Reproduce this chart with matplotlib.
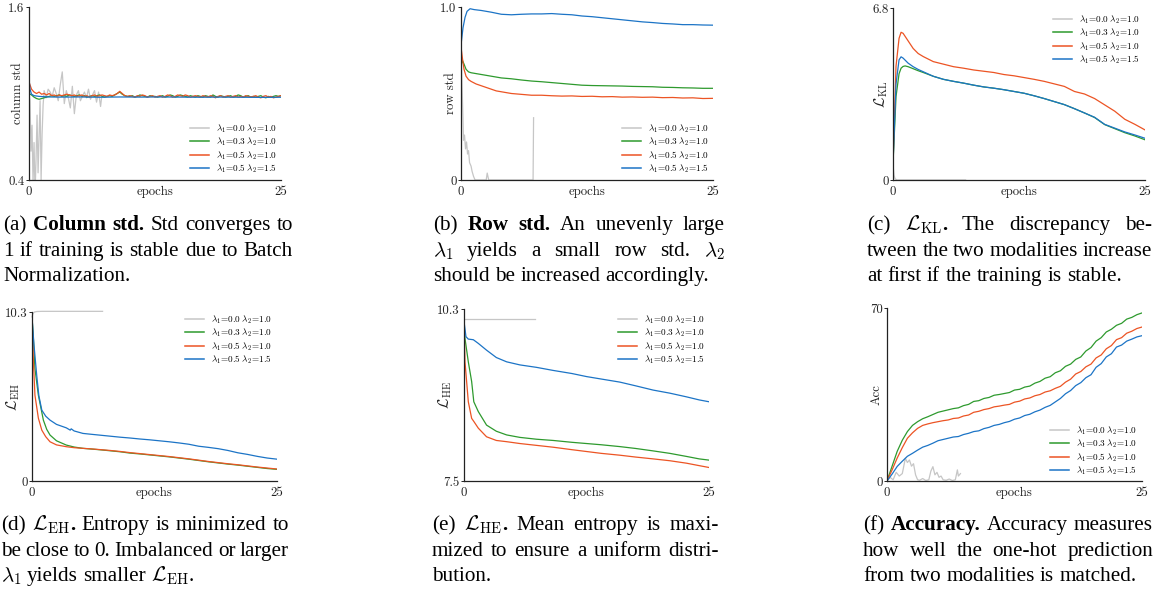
import numpy as np
import matplotlib
matplotlib.use("Agg")
import matplotlib.pyplot as plt
from matplotlib.lines import Line2D

W, H = 1161, 590

# === DATA ===
LEG_LABELS = [r"$\lambda_1\!=\!0.0\;\lambda_2\!=\!1.0$",
              r"$\lambda_1\!=\!0.3\;\lambda_2\!=\!1.0$",
              r"$\lambda_1\!=\!0.5\;\lambda_2\!=\!1.0$",
              r"$\lambda_1\!=\!0.5\;\lambda_2\!=\!1.5$"]

# (a) column std
grid_a = np.arange(101) * 0.25
orange_a = [1.08, 1.03, 1.01, 1.00, 1.01, 0.995, 1.00, 0.99, 1.00, 0.985,
            0.99, 0.98, 0.99, 0.985, 0.99, 0.995, 0.99, 0.985, 0.99, 0.98,
            0.985, 0.99, 0.98, 0.985, 0.975, 0.985, 0.99, 0.98, 0.985, 0.99,
            0.985, 0.98, 0.99, 0.985, 0.99, 1.00, 1.015, 1.00, 0.985, 0.98,
            0.985, 0.98, 0.975, 0.985, 0.98, 0.99, 0.985, 0.975, 0.98, 0.985,
            0.975, 0.98, 0.985, 0.975, 0.98, 0.99, 0.985, 0.975, 0.98, 0.99,
            0.985, 0.98, 0.99, 0.985, 0.975, 0.98, 0.985, 0.98, 0.975, 0.985,
            0.98, 0.975, 0.985, 0.98, 0.97, 0.98, 0.985, 0.975, 0.98, 0.985,
            0.975, 0.98, 0.985, 0.975, 0.98, 0.975, 0.985, 0.98, 0.975, 0.98,
            0.985, 0.975, 0.97, 0.98, 0.985, 0.975, 0.98, 0.97, 0.975, 0.98,
            0.985]
green_a = [1.00, 0.99, 0.975, 0.965, 0.96, 0.965, 0.97, 0.975, 0.98, 0.985,
           0.98, 0.985, 0.99, 0.98, 0.985, 0.98, 0.99, 0.985, 0.98, 0.985,
           0.99, 0.98, 0.985, 0.975, 0.98, 0.985, 0.98, 0.985, 0.99, 0.98,
           0.975, 0.98, 0.985, 0.98, 0.99, 1.00, 1.01, 0.995, 0.985, 0.98,
           0.98, 0.985, 0.975, 0.98, 0.99, 0.985, 0.98, 0.975, 0.985, 0.98,
           0.98, 0.975, 0.98, 0.985, 0.975, 0.98, 0.99, 0.985, 0.975, 0.98,
           0.99, 0.985, 0.98, 0.975, 0.985, 0.98, 0.975, 0.985, 0.98, 0.975,
           0.985, 0.98, 0.975, 0.99, 0.98, 0.975, 0.985, 0.98, 0.975, 0.98,
           0.985, 0.975, 0.98, 0.99, 0.985, 0.975, 0.98, 0.985, 0.975, 0.98,
           0.975, 0.98, 0.985, 0.975, 0.97, 0.98, 0.975, 0.98, 0.985, 0.98,
           0.985]
blue_a_x = [0, 0.1, 0.25, 0.5, 1, 2, 3, 5, 7, 9, 11, 13, 15, 17, 19, 21, 23, 25]
blue_a = [1.10, 1.03, 0.995, 0.985, 0.98, 0.976, 0.975, 0.976, 0.974, 0.976,
          0.975, 0.976, 0.975, 0.974, 0.975, 0.974, 0.973, 0.974]
gray_a_x = [0, 0.1, 0.2, 0.3, 0.4, 0.5, 0.6, 0.7, 0.8, 0.9, 1.0, 1.1, 1.2, 1.3, 1.4, 1.5,
            1.7, 1.9, 2.1, 2.3, 2.5, 2.7, 2.9, 3.1, 3.3, 3.5, 3.7, 3.9, 4.1, 4.3,
            4.5, 4.7, 4.9, 5.1, 5.3, 5.5, 5.7, 5.9, 6.1, 6.3, 6.5, 6.7, 6.9, 7.1, 7.2]
gray_a = [1.00, 0.95, 0.60, 0.78, 0.38, 0.66, 0.30, 0.55, 0.85, 0.45, 0.70, 0.95, 0.40, 0.72, 0.92, 1.02,
          0.97, 1.03, 1.01, 0.98, 1.04, 1.00, 0.95, 1.06, 1.15, 0.93, 1.02, 0.97, 0.90, 1.05,
          0.86, 0.99, 1.02, 0.95, 0.98, 1.01, 0.97, 1.03, 0.96, 0.99, 1.02, 0.94, 1.01, 0.91, 0.97]

# (b) row std
grid_b = [0, 0.15, 0.3, 0.5, 0.75, 1.0, 1.5, 2, 2.5, 3, 3.5, 4, 5, 6, 7, 8, 9, 10, 11, 12,
          13, 14, 15, 16, 17, 18, 19, 20, 21, 22, 23, 24, 25]
orange_b = [0.77, 0.70, 0.64, 0.60, 0.58, 0.57, 0.555, 0.545, 0.535, 0.525, 0.515, 0.51,
            0.50, 0.495, 0.49, 0.49, 0.487, 0.485, 0.486, 0.483, 0.484, 0.481, 0.482, 0.479,
            0.48, 0.478, 0.479, 0.476, 0.477, 0.474, 0.475, 0.471, 0.472]
green_b = [0.66, 0.69, 0.67, 0.64, 0.625, 0.62, 0.615, 0.61, 0.605, 0.60, 0.595, 0.59,
           0.585, 0.578, 0.572, 0.568, 0.563, 0.558, 0.553, 0.548, 0.546, 0.545, 0.544, 0.543,
           0.541, 0.54, 0.539, 0.536, 0.535, 0.533, 0.532, 0.53, 0.53]
blue_b_x = [0, 0.2, 0.4, 0.6, 0.9, 1.3, 2, 3, 4, 5, 6, 7, 8, 9, 10, 11, 12, 13, 14, 15,
            16, 17, 18, 19, 20, 21, 22, 23, 24, 25]
blue_b = [0.78, 0.88, 0.94, 0.975, 0.99, 0.985, 0.98, 0.97, 0.958, 0.955, 0.958, 0.96,
          0.96, 0.962, 0.958, 0.955, 0.948, 0.944, 0.938, 0.932, 0.926, 0.92, 0.914, 0.91,
          0.905, 0.902, 0.898, 0.898, 0.896, 0.895]
gray_b_x = [0, 0.1, 0.2, 0.25, 0.35, 0.45, 0.55, 0.65, 0.75, 0.85, 1.0, 1.1, 1.25, 1.4,
            2.5, 2.6, 2.75, 7.15, 7.2]
gray_b = [0.77, 0.55, 0.35, 0.23, 0.26, 0.18, 0.22, 0.15, 0.17, 0.10, 0.08, 0.05, 0.02, 0.0,
          0.0, 0.04, 0.0, 0.0, 0.36]

# (c) L_KL
grid_c = [0, 0.3, 0.6, 0.8, 1.0, 1.5, 2.0, 2.5, 3, 4, 5, 6, 7, 8, 9, 10, 11, 12, 13, 14,
          15, 16, 17, 18, 19, 20, 21, 22, 23, 24, 25]
orange_c = [0.67, 4.5, 5.6, 5.84, 5.8, 5.5, 5.2, 5.0, 4.88, 4.68, 4.58, 4.48, 4.42, 4.35,
            4.3, 4.25, 4.17, 4.12, 4.05, 3.98, 3.90, 3.80, 3.70, 3.50, 3.40, 3.22, 2.97,
            2.72, 2.40, 2.20, 1.98]
blue_c = [0.65, 3.8, 4.75, 4.87, 4.82, 4.62, 4.48, 4.37, 4.28, 4.10, 3.98, 3.90, 3.83,
          3.75, 3.68, 3.63, 3.57, 3.50, 3.43, 3.33, 3.22, 3.10, 2.98, 2.82, 2.65, 2.48,
          2.20, 2.05, 1.90, 1.78, 1.65]
green_c_x = [0, 0.3, 0.6, 0.8, 1.0, 1.2, 1.5, 2.0, 2.5, 3, 4, 5, 6, 7, 8, 9, 10, 11, 12,
             13, 14, 15, 16, 17, 18, 19, 20, 21, 22, 23, 24, 25]
green_c = [0.65, 3.3, 4.2, 4.42, 4.49, 4.51, 4.48, 4.40, 4.32, 4.25, 4.10, 3.98, 3.90,
           3.83, 3.75, 3.68, 3.63, 3.57, 3.50, 3.43, 3.33, 3.22, 3.10, 2.98, 2.82, 2.65,
           2.47, 2.19, 2.03, 1.87, 1.74, 1.59]
gray_c_x = [0, 0.1, 0.2, 0.4, 7.2]
gray_c = [0.6, 0.2, 0.05, 0.0, 0.0]

# (d) L_EH
gray_d_x = [0, 0.1, 0.25, 0.5, 1.0, 7.2]
gray_d = [10.0, 10.2, 10.3, 10.33, 10.34, 10.34]
blue_d_x = [0, 0.2, 0.48, 0.7, 1.0, 1.4, 1.84, 2.5, 3.5, 3.9, 4.0, 4.3, 5.2, 6, 7, 8, 9, 10,
            11, 12, 13, 14, 15, 16, 17, 18, 19, 20, 21, 22, 23, 24, 25]
blue_d = [10.0, 8.3, 6.45, 5.2, 4.32, 3.95, 3.71, 3.45, 3.24, 3.10, 3.18, 3.05, 2.90,
          2.85, 2.79, 2.73, 2.67, 2.62, 2.56, 2.51, 2.45, 2.39, 2.32, 2.24, 2.12, 2.05,
          1.97, 1.86, 1.72, 1.62, 1.50, 1.40, 1.33]
green_d_x = [0, 0.15, 0.3, 0.65, 1.16, 1.5, 1.84, 2.5, 3.5, 4.3, 5.2, 6, 7, 8, 9, 10, 11,
             12, 13, 14, 15, 16, 17, 18, 19, 20, 21, 22, 23, 24, 25]
green_d = [10.0, 8.6, 6.85, 5.23, 3.71, 3.15, 2.80, 2.45, 2.19, 2.07, 1.99, 1.95, 1.90,
           1.84, 1.78, 1.70, 1.65, 1.59, 1.53, 1.47, 1.40, 1.33, 1.25, 1.17, 1.10, 1.03,
           0.97, 0.90, 0.83, 0.76, 0.71]
orange_d_x = [0, 0.15, 0.3, 0.65, 1.0, 1.4, 1.84, 2.5, 3.5, 4.3, 5.2, 6, 7, 8, 9, 10, 11,
              12, 13, 14, 15, 16, 17, 18, 19, 20, 21, 22, 23, 24, 25]
orange_d = [10.0, 7.2, 5.23, 3.83, 3.10, 2.70, 2.39, 2.20, 2.09, 2.03, 1.99, 1.96, 1.91,
            1.86, 1.80, 1.73, 1.67, 1.61, 1.55, 1.49, 1.42, 1.35, 1.27, 1.19, 1.12, 1.05,
            0.99, 0.92, 0.85, 0.79, 0.73]

# (e) L_HE
gray_e_x = [0, 7.24]
gray_e = [10.13, 10.13]
blue_e_x = [0, 0.2, 0.44, 0.95, 1.46, 2.3, 3.3, 4.35, 5.7, 7.4, 9.1, 11, 12.5, 14, 15.9,
            17.5, 19.3, 21, 22.7, 24, 25]
blue_e = [10.1, 9.85, 9.81, 9.80, 9.74, 9.63, 9.51, 9.44, 9.39, 9.35, 9.30, 9.25, 9.20,
          9.16, 9.11, 9.05, 8.98, 8.93, 8.87, 8.82, 8.79]
grid_e = [0, 0.1, 0.44, 0.78, 1.0, 1.46, 2.3, 3.3, 4.35, 5.7, 7.4, 9.1, 11, 12.5, 14, 15.9,
          17.5, 19.3, 21, 22.7, 24, 25]
green_e = [10.1, 9.82, 9.44, 9.12, 8.79, 8.63, 8.41, 8.31, 8.25, 8.21, 8.18, 8.16, 8.13,
           8.11, 8.09, 8.06, 8.03, 7.99, 7.95, 7.90, 7.86, 7.84]
orange_e = [10.1, 9.44, 8.79, 8.52, 8.47, 8.36, 8.22, 8.16, 8.14, 8.11, 8.08, 8.05, 8.01,
            7.98, 7.95, 7.92, 7.89, 7.86, 7.83, 7.79, 7.75, 7.72]

# (f) accuracy, half-epoch readings
grid_f = np.arange(51) * 0.5
green_f = [0, 6, 12, 16.5, 20, 22.5, 24, 25.2, 26, 26.9,
           27.8, 28.3, 28.8, 29.3, 29.6, 30.5, 31.0, 32.2, 32.5, 33.4,
           33.8, 34.7, 35.0, 35.4, 35.8, 36.8, 37.1, 38.0, 38.4, 39.6,
           40.3, 41.6, 42.2, 43.8, 44.6, 46.4, 47.3, 49.2, 50.2, 52.6,
           54.0, 56.6, 58.0, 60.3, 61.4, 63.0, 63.8, 65.5, 66.2, 67.3,
           68.0]
orange_f = [0, 4.5, 9.3, 13.5, 17.3, 19.5, 21.3, 22.5, 23.1, 23.6,
            24.0, 24.4, 24.7, 25.3, 25.5, 26.3, 26.7, 27.8, 28.2, 28.9,
            29.3, 30.0, 30.3, 30.7, 31.0, 31.9, 32.3, 33.2, 33.6, 34.5,
            35.0, 36.0, 36.5, 37.5, 38.3, 40.0, 41.2, 43.3, 44.3, 46.2,
            47.3, 49.8, 51.0, 53.5, 54.8, 57.2, 58.0, 59.8, 60.6, 61.7,
            62.3]
blue_f = [0, 2.8, 5.9, 8.0, 10.0, 11.2, 12.5, 13.7, 14.4, 15.3,
          16.3, 16.8, 17.3, 17.8, 18.0, 18.8, 19.3, 20.0, 20.3, 21.2,
          21.7, 22.5, 22.9, 23.6, 24.1, 25.0, 25.5, 26.5, 27.0, 28.0,
          28.7, 29.8, 30.6, 32.0, 33.4, 35.3, 36.6, 38.6, 39.8, 41.8,
          43.0, 46.0, 47.5, 50.2, 51.5, 54.2, 55.0, 56.6, 57.4, 58.3,
          58.8]
gray_f_x = [0, 0.3, 0.6, 0.9, 1.2, 1.5, 1.8, 2.0, 2.2, 2.4, 2.6, 2.8, 3.0, 3.2, 3.5, 3.8,
            4.1, 4.3, 4.5, 4.7, 4.9, 5.1, 5.3, 5.5, 5.8, 6.1, 6.4, 6.7, 6.9, 7.0, 7.2]
gray_f = [0, 1.5, 0.5, 3.5, 2.0, 3.0, 9.2, 7.5, 8.5, 6.0, 7.0, 2.5, 0.5, 0.3, 1.0, 0.2,
          0.5, 4.0, 5.8, 2.5, 3.5, 1.5, 2.0, 0.5, 0.3, 0.8, 0.2, 0.5, 4.5, 2.0, 3.0]

# captions ('*' = bold word, trailing '~' = no space after)
CAPTIONS = [
    ["(a) *Column *std. Std converges to",
     "1 if training is stable due to Batch",
     "Normalization."],
    ["(b) *Row *std. An unevenly large",
     r"$\lambda_1$ yields a small row std. $\lambda_2$",
     "should be increased accordingly."],
    [r"(c) $\mathcal{L}_\mathrm{KL}$~ *. The discrepancy be-",
     "tween the two modalities increase",
     "at first if the training is stable."],
    [r"(d) $\mathcal{L}_\mathrm{EH}$~ *. Entropy is minimized to",
     "be close to 0. Imbalanced or larger",
     r"$\lambda_1$ yields smaller $\mathcal{L}_\mathrm{EH}$~ ."],
    [r"(e) $\mathcal{L}_\mathrm{HE}$~ *. Mean entropy is maxi-",
     "mized to ensure a uniform distri-",
     "bution."],
    ["(f) *Accuracy. Accuracy measures",
     "how well the one-hot prediction",
     "from two modalities is matched."],
]

# === STYLE ===
plt.rcParams['font.family'] = 'cmr10'
plt.rcParams['mathtext.fontset'] = 'cm'
plt.rcParams['axes.unicode_minus'] = False
plt.rcParams['axes.formatter.use_mathtext'] = True

C_GRAY, C_GREEN, C_ORANGE, C_BLUE = '#c6c6c6', '#2e9a2e', '#ec5424', '#1c74c6'
COLS = [C_GRAY, C_GREEN, C_ORANGE, C_BLUE]
LW = 0.9

fig = plt.figure(figsize=(W / 100, H / 100), dpi=100)


def make_axes(box):
    l, r, t, b = box
    return fig.add_axes([l / W, 1 - b / H, (r - l) / W, (b - t) / H])


def setup(ax, box, ylim, ytl, ylabel, ylab_x, ylab_fs, leg_xy):
    l, r, t, b = box
    ax.set_xlim(0, 25)
    ax.set_ylim(*ylim)
    ax.set_xticks([0, 25])
    ax.set_xticklabels(['0', '25'])
    ax.set_yticks(list(ylim))
    ax.set_yticklabels(ytl)
    for s in ['top', 'right']:
        ax.spines[s].set_visible(False)
    for s in ['left', 'bottom']:
        ax.spines[s].set_linewidth(0.9)
        ax.spines[s].set_color('#222222')
    ax.tick_params(labelsize=9.2, length=2, width=0.7, colors='#222222', pad=1.2)
    ax.tick_params(axis='x', length=0, pad=4)
    ax.set_xlabel('epochs', fontsize=9.2, color='#222222')
    ax.xaxis.label.set_va('center')
    ax.xaxis.set_label_coords(0.5, -11.5 / (b - t))
    ax.set_ylabel(ylabel, fontsize=ylab_fs, color='#222222')
    ax.yaxis.label.set_va('center')
    ax.yaxis.set_label_coords((ylab_x - l) / (r - l), 0.5)
    handles = [Line2D([], [], color=c, lw=1.1) for c in COLS]
    ax.legend(handles, LEG_LABELS, loc='upper left',
              bbox_to_anchor=(leg_xy[0] / W, 1 - leg_xy[1] / H),
              bbox_transform=fig.transFigure, frameon=False, fontsize=6.6,
              handlelength=2.1, handletextpad=0.75, labelspacing=0.1,
              borderpad=0, borderaxespad=0)


# (a)
box = (29, 281, 7, 180)
ax = make_axes(box)
ax.plot(gray_a_x, gray_a, color=C_GRAY, lw=LW)
ax.plot(grid_a, green_a, color=C_GREEN, lw=LW)
ax.plot(grid_a, orange_a, color=C_ORANGE, lw=LW)
ax.plot(blue_a_x, blue_a, color=C_BLUE, lw=LW)
setup(ax, box, (0.4, 1.6), ['0.4', '1.6'], 'column std', 17.5, 9.2, (190, 122))

# (b)
box = (461, 713, 7, 180)
ax = make_axes(box)
ax.plot(gray_b_x, gray_b, color=C_GRAY, lw=LW)
ax.plot(grid_b, green_b, color=C_GREEN, lw=LW)
ax.plot(grid_b, orange_b, color=C_ORANGE, lw=LW)
ax.plot(blue_b_x, blue_b, color=C_BLUE, lw=LW)
setup(ax, box, (0, 1.0), ['0', '1.0'], 'row std', 451, 9.2, (622, 122))

# (c)
box = (893, 1145, 8, 180)
ax = make_axes(box)
ax.plot(gray_c_x, gray_c, color=C_GRAY, lw=LW)
ax.plot(green_c_x, green_c, color=C_GREEN, lw=LW)
ax.plot(grid_c, orange_c, color=C_ORANGE, lw=LW)
ax.plot(grid_c, blue_c, color=C_BLUE, lw=LW)
setup(ax, box, (0, 6.8), ['0', '6.8'], r'$\mathcal{L}_\mathrm{KL}$', 881, 11, (1053, 13))

# (d)
box = (32, 277, 312, 481)
ax = make_axes(box)
ax.plot(gray_d_x, gray_d, color=C_GRAY, lw=LW, clip_on=False)
ax.plot(green_d_x, green_d, color=C_GREEN, lw=LW)
ax.plot(orange_d_x, orange_d, color=C_ORANGE, lw=LW)
ax.plot(blue_d_x, blue_d, color=C_BLUE, lw=LW)
setup(ax, box, (0, 10.3), ['0', '10.3'], r'$\mathcal{L}_\mathrm{EH}$', 13, 11, (185, 313))

# (e)
box = (464, 709, 309, 481)
ax = make_axes(box)
ax.plot(gray_e_x, gray_e, color=C_GRAY, lw=LW)
ax.plot(grid_e, green_e, color=C_GREEN, lw=LW)
ax.plot(grid_e, orange_e, color=C_ORANGE, lw=LW)
ax.plot(blue_e_x, blue_e, color=C_BLUE, lw=LW)
setup(ax, box, (7.5, 10.3), ['7.5', '10.3'], r'$\mathcal{L}_\mathrm{HE}$', 445, 11, (618, 313))

# (f)
box = (887, 1142, 308, 481)
ax = make_axes(box)
ax.plot(gray_f_x, gray_f, color=C_GRAY, lw=LW)
ax.plot(grid_f, green_f, color=C_GREEN, lw=LW)
ax.plot(grid_f, orange_f, color=C_ORANGE, lw=LW)
ax.plot(grid_f, blue_f, color=C_BLUE, lw=LW)
setup(ax, box, (0, 70), ['0', '70'], 'Acc', 877, 9.2, (1050, 424))

# === CAPTIONS (word-by-word placement, justified) ===
CAP_FS = 15.2
SPACE = 5.3
cap_boxes = [(3, 293, [230, 256, 281]), (433, 725, [230, 256, 281]),
             (867, 1152, [230, 256, 281]), (1, 289, [530, 556, 581]),
             (432, 719, [530, 556, 581]), (863, 1153, [530, 556, 581])]

renderer = fig.canvas.get_renderer()
for lines, (x0, x1, ys) in zip(CAPTIONS, cap_boxes):
    for i, line in enumerate(lines):
        justify = i < len(lines) - 1
        items = []
        for w in line.split(' '):
            glue = w.endswith('~')
            w = w.rstrip('~')
            bold = w.startswith('*')
            w = w.lstrip('*')
            t = fig.text(0, 0, w, fontsize=CAP_FS, family='Liberation Serif',
                         weight='bold' if bold else 'normal', math_fontfamily='cm',
                         va='baseline', ha='left', color='black')
            items.append([t, t.get_window_extent(renderer).width, glue])
        n_gaps = sum(1 for it in items[:-1] if not it[2])
        total = sum(it[1] for it in items)
        gap = (x1 - x0 - total) / n_gaps if (justify and n_gaps) else SPACE
        x = x0
        for t, wid, glue in items:
            t.set_position((x / W, 1 - ys[i] / H))
            x += wid + (0 if glue else gap)

fig.savefig('out.png', dpi=100)
